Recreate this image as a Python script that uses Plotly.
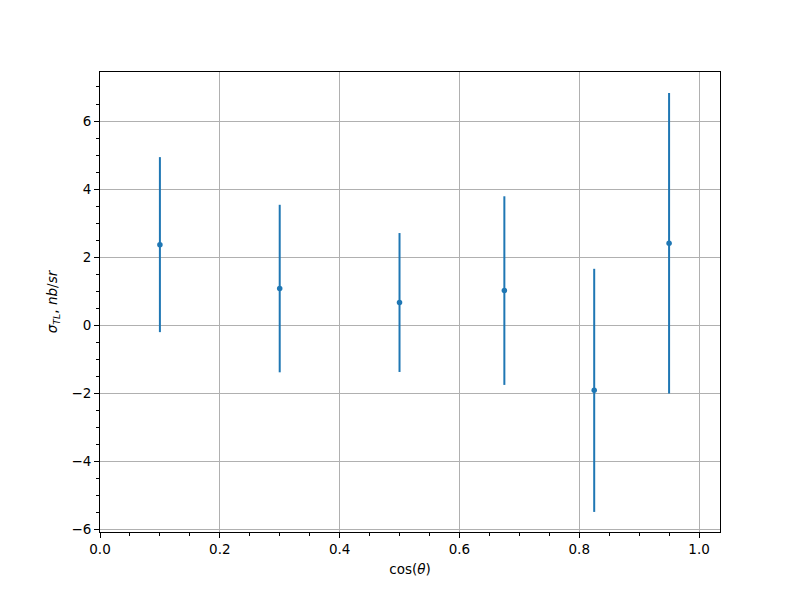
import plotly.graph_objects as go

cos_theta = [0.1, 0.3, 0.5, 0.675, 0.825, 0.95]
sigma_tl = [2.37, 1.08, 0.67, 1.02, -1.91, 2.41]
sigma_err = [2.57, 2.46, 2.04, 2.77, 3.57, 4.41]

fig = go.Figure()
fig.add_trace(go.Scatter(
    x=cos_theta, y=sigma_tl, mode="markers",
    marker=dict(color="#1f77b4", size=5.5),
    error_y=dict(type="data", array=sigma_err, visible=True,
                 color="#1f77b4", thickness=2, width=0),
    showlegend=False,
))

axis_common = dict(
    showline=True, linecolor="black", linewidth=1, mirror=True,
    ticks="outside", ticklen=5, tickwidth=1, tickcolor="black",
    showgrid=True, gridcolor="#b0b0b0", gridwidth=0.8,
    zeroline=False,
    tickfont=dict(family="DejaVu Sans", size=13.5, color="black"),
)

fig.update_xaxes(
    range=[0, 1.035], tickmode="array",
    tickvals=[0, 0.2, 0.4, 0.6, 0.8, 1.0],
    ticktext=["0.0", "0.2", "0.4", "0.6", "0.8", "1.0"],
    minor=dict(dtick=0.05, tick0=0, ticks="outside", ticklen=3, tickcolor="black", showgrid=False),
    title=dict(text="cos(<i>θ</i>)", font=dict(family="DejaVu Sans", size=13.5, color="black"), standoff=8),
    **axis_common,
)
fig.update_yaxes(
    range=[-6.07, 7.44], tickmode="array",
    tickvals=[-6, -4, -2, 0, 2, 4, 6],
    ticktext=["−6", "−4", "−2", "0", "2", "4", "6"],
    minor=dict(dtick=0.5, tick0=0, ticks="outside", ticklen=3, tickcolor="black", showgrid=False),
    title=dict(text="<i>σ</i><sub><i>TL</i></sub>, <i>nb</i>/<i>sr</i>",
               font=dict(family="DejaVu Sans", size=13.5, color="black"), standoff=10),
    **axis_common,
)

fig.update_layout(
    width=800, height=600,
    margin=dict(l=92, r=88, t=64, b=76),
    paper_bgcolor="white", plot_bgcolor="white",
    font=dict(family="DejaVu Sans", size=13.5, color="black"),
)

fig.write_html("out.html")
